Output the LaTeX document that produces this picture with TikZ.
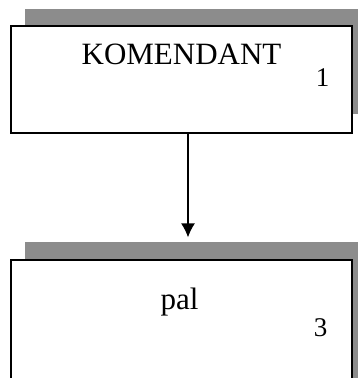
\documentclass[tikz,border=0pt]{standalone}
\usepackage{fontspec}
\setmainfont{Liberation Serif}
\usetikzlibrary{positioning,arrows.meta,backgrounds}
\tikzset{every node/.style={align=center}, >={Latex[length=14pt,width=14pt]},
  box/.style={draw, line width=1.3pt, fill=white, rectangle, inner sep=0pt},
  shadowfill/.style={fill=black!45},
  title/.style={font=\fontsize{31}{36}\selectfont, anchor=base, inner sep=0pt},
  num/.style={font=\fontsize{27}{30}\selectfont, anchor=base, inner sep=0pt}}

\begin{document}
\begin{tikzpicture}[x=1pt, y=-1pt]
  \clip (0,0) rectangle (358,378);
  \node [box, minimum width=341pt, minimum height=107pt] (kom) at (181.5,79.5) {};
  \node [box, minimum width=341pt, minimum height=140pt] (pal) at (181.5,330) {};
  \node [title] (komtxt) at ([yshift=-39pt]kom.north) {KOMENDANT};
  \node [num] (komnr) at ([xshift=-30pt, yshift=47pt]kom.south east) {1};
  \node [title] (paltxt) at ([xshift=-2pt, yshift=-50pt]pal.north) {pal};
  \node [num] (palnr) at ([xshift=-32pt, yshift=-77pt]pal.north east) {3};
  \begin{scope}[on background layer]
    \fill [shadowfill] ([xshift=15pt, yshift=16pt]kom.north west) rectangle ([xshift=6pt, yshift=20pt]kom.south east);
    \fill [shadowfill] ([xshift=15pt, yshift=17pt]pal.north west) rectangle (358,378);
  \end{scope}
  \draw [->, line width=1.3pt, shorten >=22pt] ([xshift=6.5pt]kom.south) -- ([xshift=6.5pt]pal.north);
\end{tikzpicture}
\end{document}
